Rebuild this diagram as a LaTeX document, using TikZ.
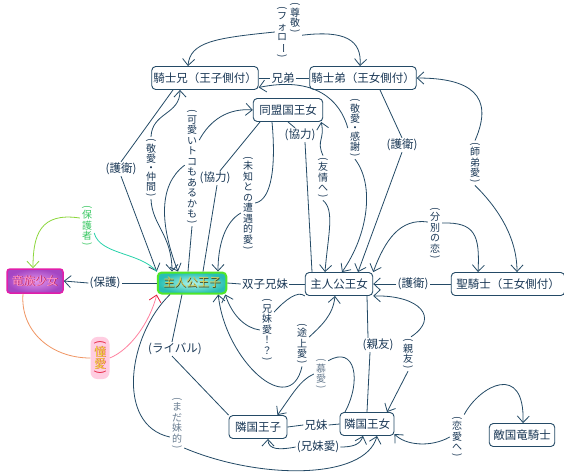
\documentclass[tikz,border=0pt]{standalone}
\usepackage{fontspec}
\usepackage{graphicx}
\setmainfont{Noto Sans CJK JP}
\usetikzlibrary{arrows.meta,calc}
\definecolor{ln}{RGB}{36,74,102}
\definecolor{tx}{RGB}{25,55,85}
\definecolor{lt}{RGB}{105,125,145}
\definecolor{hpg}{RGB}{80,230,40}
\definecolor{hpin}{RGB}{175,245,235}
\definecolor{hpout}{RGB}{40,190,180}
\definecolor{hptext}{RGB}{215,205,90}
\definecolor{hpdark}{RGB}{70,70,25}
\definecolor{ryb}{RGB}{225,30,170}
\definecolor{ryin}{RGB}{225,150,235}
\definecolor{ryout}{RGB}{165,70,195}
\definecolor{rytext}{RGB}{255,150,205}
\definecolor{rydark}{RGB}{190,25,75}
\definecolor{hgtext}{RGB}{60,200,100}
\definecolor{hgA}{RGB}{140,215,60}
\definecolor{hgB}{RGB}{40,210,170}
\definecolor{daA}{RGB}{240,150,100}
\definecolor{daB}{RGB}{255,130,160}
\definecolor{dared}{RGB}{230,30,60}
\definecolor{daglow}{RGB}{255,205,225}
\definecolor{dayel}{RGB}{235,225,60}
\newcommand\nf{\fontsize{11.5}{13}\selectfont}
\newcommand\vf{\fontsize{10}{12}\selectfont}
\newcommand\stxt[3]{\makebox[0pt][l]{\hspace{0.7pt}\raisebox{-0.7pt}{\textcolor{#2}{#1}}}\textcolor{#3}{#1}}
\makeatletter
\newcommand\vtfmt[1]{#1}
\newcommand\vtfmtda[1]{\stxt{#1}{dared}{dayel}}
\newcommand\vtch[1]{\rule[-2pt]{0pt}{10.5pt}\vtfmt{#1}}
\newcommand\vtlp{\rule{0pt}{6pt}\smash{\rotatebox[origin=c]{-90}{(}}}
\newcommand\vtrp{\rule{0pt}{6pt}\smash{\rotatebox[origin=c]{-90}{)}}}
\newcommand\vtdt{\rule[-0.5pt]{0pt}{7pt}・}
\newcommand\vtbr{\rule[-2pt]{0pt}{10.5pt}\smash{\rotatebox[origin=c]{-90}{ー}}}
\newcommand\VT[1]{\vbox{\offinterlineskip\VT@i#1\@nil}}
\def\VT@i#1{\ifx\@nil#1\else\hbox to 13pt{\hss\VT@sel#1\hss}\expandafter\VT@i\fi}
\def\VT@sel#1{\ifx (#1\vtlp\else\ifx )#1\vtrp\else\ifx ・#1\vtdt\else\ifx ー#1\vtbr\else\vtch{#1}\fi\fi\fi\fi}
\newcommand\VTda[1]{\begingroup\let\vtfmt\vtfmtda\VT{#1}\endgroup}
\makeatother
\begin{document}
\begin{tikzpicture}[x=1pt,y=-1pt,
  box/.style={draw=ln, line width=0.9pt, rounded corners=4pt, fill=white, text=tx, font=\nf, inner xsep=5pt, inner ysep=0pt, minimum height=23pt},
  lab/.style={text=tx, font=\nf, inner sep=1pt},
  vlab/.style={text=tx, font=\vf, inner sep=0.5pt},
  rel/.style={draw=ln, line width=0.8pt},
  arw/.style={-{Straight Barb[length=6.5pt,width=12pt]}},
  rarw/.style={{Straight Barb[length=6.5pt,width=12pt]}-},
]
\fill[white] (0,0) rectangle (564,472);
\useasboundingbox (0,0) rectangle (564,472);

% main nodes
\node[box, inner xsep=1.5pt] (KA) at (205,78) {騎士兄（王子側付）};
\node[box, inner xsep=1.5pt] (KO) at (363,78) {騎士弟（王女側付）};
\node[box, inner xsep=6pt] (DO) at (288,110) {同盟国王女};
\node[draw=hpg, line width=2pt, rounded corners=4pt, inner color=hpin, outer color=hpout, minimum height=21pt, inner xsep=5.5pt, inner ysep=0pt, font=\nf] (HP) at (192,283) {\stxt{主人公王子}{hpdark}{hptext}};
\node[draw=ryb, line width=1.5pt, rounded corners=3pt, inner color=ryin, outer color=ryout, minimum height=24pt, inner xsep=5pt, inner ysep=0pt, font=\nf] (RY) at (35,281) {\stxt{竜族少女}{rydark}{rytext}};
\node[box] (HQ) at (339,284) {主人公王女};
\node[box] (SK) at (508,284) {聖騎士（王女側付）};
\node[box, inner xsep=6pt] (RP) at (258,427) {隣国王子};
\node[box, inner xsep=4pt] (RQ) at (367,424) {隣国王女};
\node[box, inner xsep=4pt] (TK) at (522,435) {敵国竜騎士};

% labels
\node[lab] (Lkd) at (283,78) {兄弟};
\node[vlab] (Lfol) at (282,32) {\VT{(フォロー)}};
\node[vlab] (Lson) at (295,18) {\VT{(尊敬)}};
\node[lab] (Lg1) at (121,169) {(護衛)};
\node[vlab] (Lk1) at (151,168) {\VT{(敬愛・仲間)}};
\node[vlab] (Lkw) at (192,167) {\VT{(可愛いトコもあるかも)}};
\node[lab] (Lky1) at (215,178) {(協力)};
\node[vlab] (Lmi) at (248,203) {\VT{(未知との遭遇的愛)}};
\node[lab] (Lky2) at (300,135) {(協力)};
\node[vlab] (Lyu) at (323,178) {\VT{(友情へ)}};
\node[vlab] (Lk2) at (355,128) {\VT{(敬愛・感謝)}};
\node[lab] (Lg2) at (402,145) {(護衛)};
\node[vlab] (Lsh) at (475,163) {\VT{(師弟愛)}};
\node[vlab] (Lfb) at (435,233) {\VT{(分別の恋)}};
\node[vlab, text=hgtext] (Lhs) at (87,226) {\VT{(保護者)}};
\node[lab] (Lho) at (105,283) {(保護)};
\node[lab] (Lsz) at (265,284) {双子兄妹};
\node[lab] (Lg3) at (413,284) {(護衛)};
\node[vlab] (Lkm) at (267,330) {\VT{(兄妹愛！？)}};
\node[vlab] (Ltj) at (302,344) {\VT{(途上愛)}};
\node[lab] (Ls1) at (378,345) {(親友)};
\node[vlab] (Ls2) at (408,354) {\VT{(親友)}};
\node[vlab, text=lt] (Lbo) at (321,374) {\VT{(慕愛)}};
\node[lab] (Lrv) at (175,349) {(ライバル)};
\node[vlab, text=lt] (Lmd) at (177,423) {\VT{(まだ妹的)}};
\node[lab] (Lkm2) at (316,425) {兄妹};
\node[lab] (Lkma) at (318,447) {(兄妹愛)};
\node[vlab] (Lra) at (457,437) {\VT{(恋愛へ)}};
\node[vlab, fill=daglow, rounded corners=7pt, inner sep=3pt, text=dared, font=\fontsize{12}{14}\selectfont] (Lda) at (100,358) {\VTda{(憧愛)}};

% follow / respect
\draw[rel,arw] (Lfol.west) .. controls (215,38) and (190,42) .. ([xshift=-17pt]KA.north);
\draw[rel,arw] (Lson.south east) .. controls (345,30) and (362,40) .. ([xshift=-3pt]KO.north);
% brothers
\draw[rel] (KA.east) -- (Lkd.west);
\draw[rel] (Lkd.east) -- (KO.west);
% guard KA -> HP
\draw[rel] ([xshift=-32pt]KA.south) -- (Lg1.north);
\draw[rel,arw] (Lg1.south) -- (HP.north west);
% respect / comrade
\draw[rel,rarw] ([xshift=-25pt]KA.south) .. controls (180,115) and (152,112) .. (Lk1.north);
\draw[rel,arw] (Lk1.south) .. controls (152,225) and (172,235) .. ([xshift=-20pt]HP.north);
% cute
\draw[rel,arw] (Lkw.75) .. controls (210,120) and (228,108) .. (DO.west);
\draw[rel,arw] (Lkw.165) .. controls (158,185) and (160,225) .. ([xshift=-14pt]HP.north);
\draw[rel] (Lkw.south) -- ([xshift=-4pt]HP.north);
% cooperation left
\draw[rel] ([xshift=-28pt]DO.south) -- ([xshift=5pt]Lky1.north);
\draw[rel] ([xshift=2pt]Lky1.south) -- ([xshift=11pt]HP.north);
% unknown encounter
\draw[rel] ([xshift=-16pt]DO.south) .. controls (276,165) and (272,200) .. (Lmi.east);
\draw[rel,arw] ([yshift=-10pt]Lmi.west) .. controls (225,222) and (218,245) .. ([xshift=26pt]HP.north);
% cooperation right
\draw[rel] (DO.south) -- ([xshift=-5pt]Lky2.north);
\draw[rel] ([xshift=5pt]Lky2.south) -- ([xshift=-27pt]HQ.north);
% friendship
\draw[rel,rarw] ([xshift=-2pt]DO.south east) .. controls (325,140) and (316,140) .. (Lyu.north);
\draw[rel,arw] (Lyu.south) .. controls (335,210) and (328,235) .. ([xshift=-14pt]HQ.north);
% respect / thanks
\draw[rel,rarw] (KA.-10) .. controls (315,76) and (340,100) .. (Lk2.west);
\draw[rel,arw] (Lk2.south) .. controls (375,185) and (368,235) .. ([xshift=3pt]HQ.north);
% guard KO -> HQ
\draw[rel] ([xshift=17pt]KO.south) -- (Lg2.north);
\draw[rel,arw] (Lg2.south) -- ([xshift=19pt]HQ.north);
% master-disciple
\draw[rel,rarw] (KO.east) .. controls (470,78) and (495,95) .. (Lsh.north);
\draw[rel,arw] (Lsh.south) .. controls (495,205) and (517,235) .. ([xshift=9pt]SK.north);
% discreet love
\draw[rel,arw] ([yshift=11pt]Lfb.west) .. controls (400,218) and (385,240) .. (HQ.north east);
\draw[rel,arw] ([yshift=10pt]Lfb.east) .. controls (475,222) and (480,235) .. ([xshift=-30pt]SK.north);
% guardian
\draw[draw=hgA, line width=0.8pt, -{Straight Barb[length=6.5pt,width=12pt]}] ([yshift=8pt]Lhs.west) .. controls (40,212) and (33,235) .. ([xshift=-2pt]RY.north);
\draw[draw=hgB, line width=0.8pt] ([yshift=-7pt]Lhs.east) .. controls (100,255) and (140,252) .. (HP.north west);
% protection
\draw[rel] (HP.west) -- (Lho.east);
\draw[rel,arw] (Lho.west) -- (RY.east);
% admiration
\draw[draw=daA, line width=0.8pt] ([xshift=-12pt]RY.south) .. controls (20,330) and (50,358) .. (Lda.west);
\draw[draw=daB, line width=0.8pt, -{Straight Barb[length=6.5pt,width=12pt,color=dared]}] (Lda.east) .. controls (130,350) and (150,322) .. (HP.south west);
% twins
\draw[rel] (HP.east) -- (Lsz.west);
\draw[rel] (Lsz.east) -- (HQ.west);
% guard SK -> HQ
\draw[rel] (SK.west) -- (Lg3.east);
\draw[rel,arw] (Lg3.west) -- (HQ.east);
% sibling love?!
\draw[rel,arw] (Lkm.west) .. controls (245,328) and (232,315) .. ([xshift=-2pt]HP.south east);
\draw[rel] ([yshift=18pt]Lkm.east) .. controls (285,300) and (298,290) .. (HQ.south west);
% growing love
\draw[rel,arw] ([yshift=7pt]Ltj.east) .. controls (322,325) and (333,315) .. ([xshift=-4pt]HQ.south);
\draw[rel,arw] (Ltj.south) .. controls (290,420) and (225,360) .. ([xshift=-9pt]HP.south east);
% adoration
\draw[rel] ([xshift=-22pt]RQ.north) .. controls (362,380) and (355,345) .. ([yshift=-4pt]Lbo.north east);
\draw[rel,arw] (Lbo.west) .. controls (300,380) and (292,395) .. ([xshift=-10pt]RP.north east);
% best friends
\draw[rel] ([xshift=28pt]HQ.south) -- ([xshift=-10pt]Ls1.north);
\draw[rel] ([xshift=-8pt]Ls1.south) -- (RQ.north);
\draw[rel,arw] ([xshift=3pt]Ls2.north) .. controls (440,318) and (420,295) .. (HQ.south east);
\draw[rel,arw] (Ls2.south) -- ([xshift=20pt]RQ.north);
% to love
\draw[rel,arw] (Lra.north east) .. controls (480,385) and (525,362) .. ([xshift=1pt]TK.north);
\draw[rel,arw] (Lra.west) .. controls (430,448) and (405,445) .. (RQ.-20);
% rival
\draw[rel] ([xshift=-10pt]HP.south) -- ([xshift=-3pt]Lrv.north);
\draw[rel] ([xshift=-3pt]Lrv.south) -- (RP.north west);
% still like a little sister
\draw[rel] ([xshift=-22pt]HP.south) .. controls (128,335) and (115,425) .. ([yshift=-14pt]Lmd.west);
\draw[rel,arw] ([yshift=-25pt]Lmd.east) .. controls (260,480) and (365,480) .. ([xshift=10pt]RQ.south);
% siblings
\draw[rel] (RP.east) -- (Lkm2.west);
\draw[rel] (Lkm2.east) -- (RQ.west);
\draw[rel,arw] (Lkma.west) .. controls (280,450) and (268,450) .. ([xshift=10pt]RP.south);
\draw[rel,arw] (Lkma.east) .. controls (352,447) and (360,445) .. ([xshift=-4pt]RQ.south);
\end{tikzpicture}
\end{document}
